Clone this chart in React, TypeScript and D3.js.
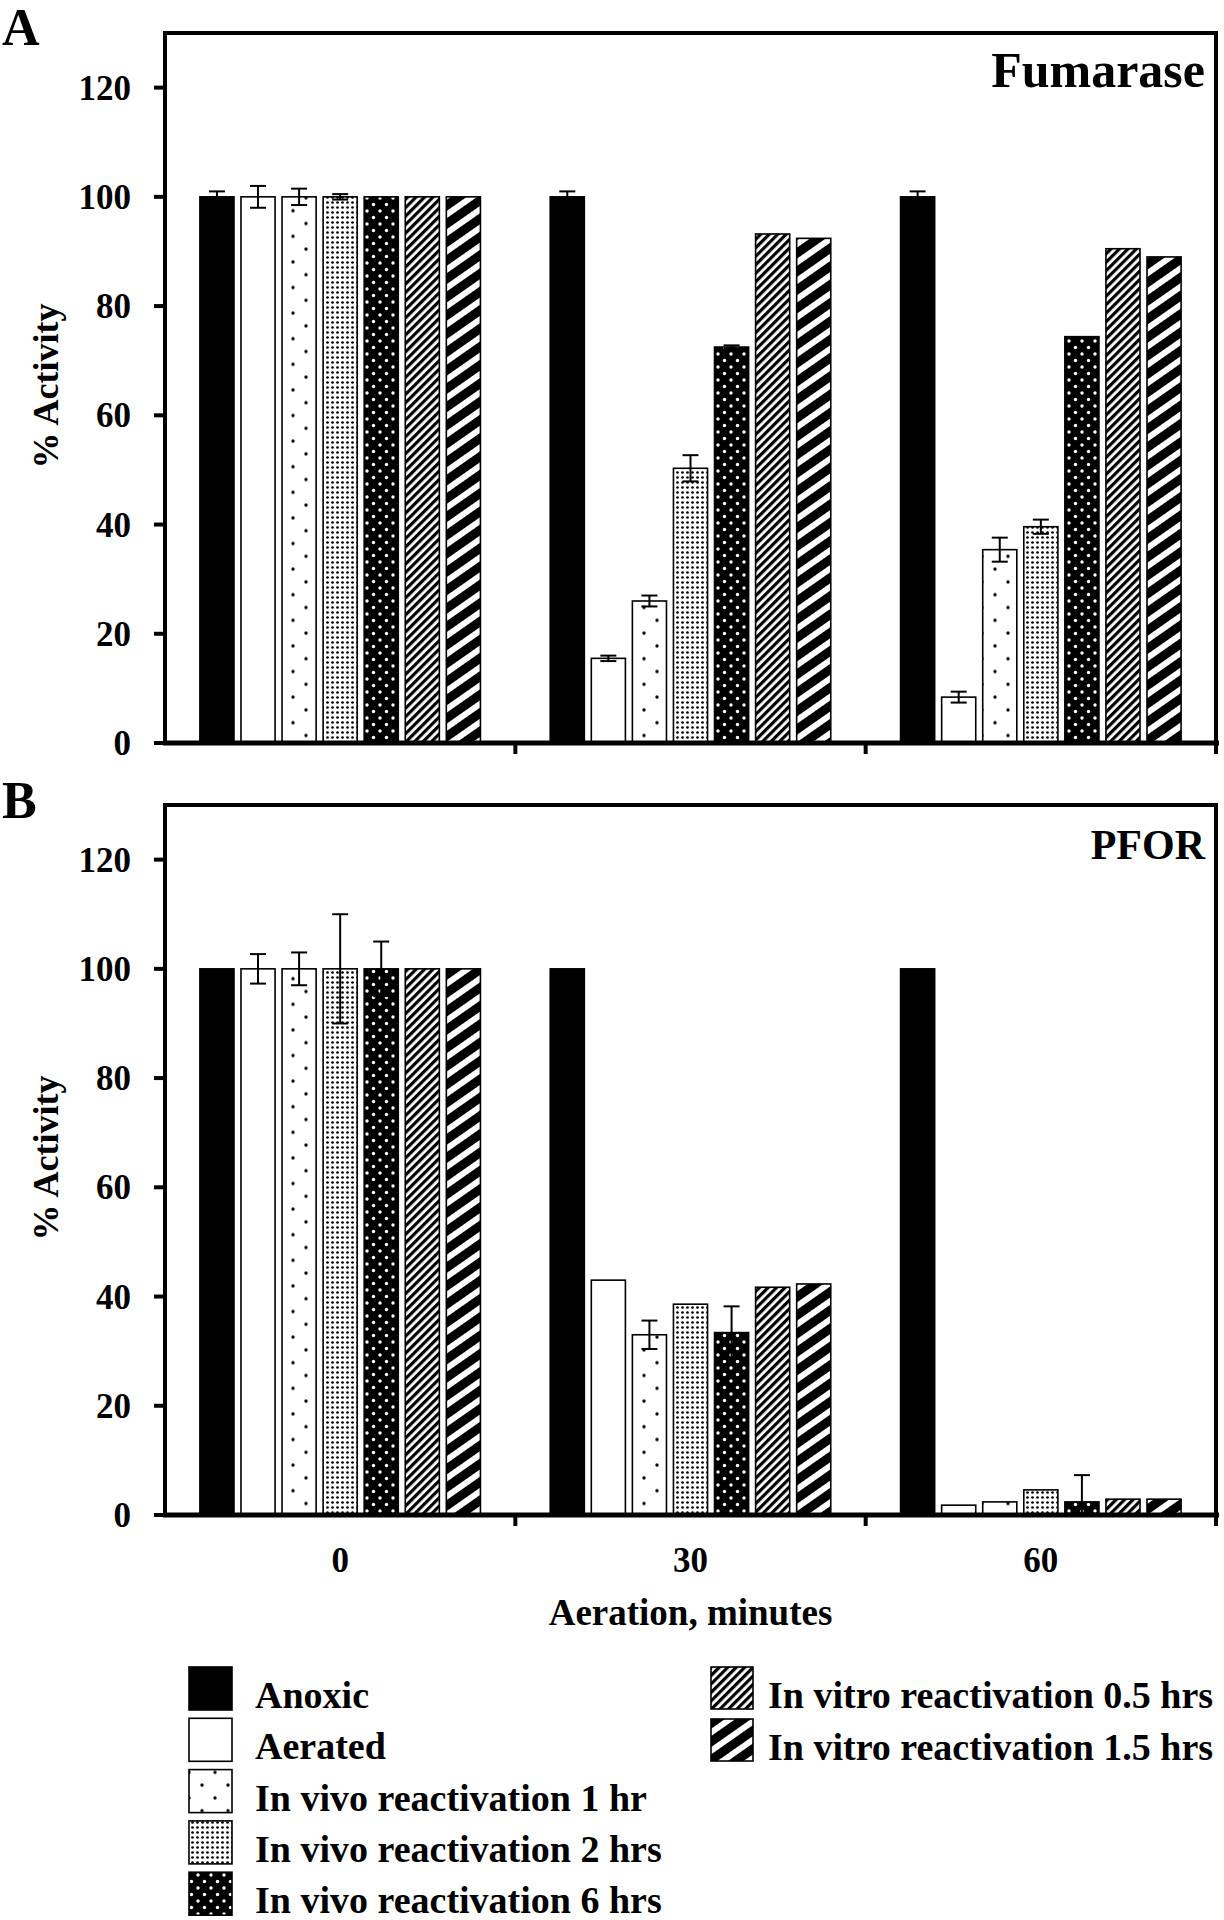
import React from "react";
import * as d3 from "d3";

const groups = ["0", "30", "60"];
const series = [
  "Anoxic",
  "Aerated",
  "In vivo reactivation 1 hr",
  "In vivo reactivation 2 hrs",
  "In vivo reactivation 6 hrs",
  "In vitro reactivation 0.5 hrs",
  "In vitro reactivation 1.5 hrs",
];
const fills = ["#000", "#fff", "url(#p1)", "url(#p2)", "url(#p3)", "url(#p4)", "url(#p5)"];

const fumaraseValues = [
  [100, 100, 100, 100, 100, 100, 100],
  [100, 15.5, 26, 50.3, 72.5, 93.2, 92.4],
  [100, 8.4, 35.4, 39.6, 74.4, 90.5, 89],
];
const fumaraseErrors = [
  [1, 2, 1.5, 0.5, 0, 0, 0],
  [1, 0.5, 1, 2.4, 0.3, 0, 0],
  [1, 1, 2.2, 1.3, 0, 0, 0],
];
const pforValues = [
  [100, 100, 100, 100, 100, 100, 100],
  [100, 43, 33, 38.6, 33.4, 41.7, 42.3],
  [100, 1.8, 2.4, 4.6, 2.4, 2.9, 2.9],
];
const pforErrors = [
  [0, 2.7, 3, 10, 5, 0, 0],
  [0, 0, 2.6, 0, 4.8, 0, 0],
  [0, 0, 0, 0, 4.9, 0, 0],
];
const yTicks = [0, 20, 40, 60, 80, 100, 120];

const FONT = "'Liberation Serif', 'Times New Roman', serif";
const left = 165;
const right = 1216;

const x0 = d3.scaleBand().domain(groups).range([left, right]);
const x1 = d3
  .scaleBand()
  .domain(series)
  .range([0, x0.bandwidth()])
  .paddingInner(0.17)
  .paddingOuter(0.85);

const Panel = ({ top, bottom, values, errors, title, titleSize, letter, letterY, showLabels }) => {
  const y = d3.scaleLinear().domain([0, 130]).range([bottom, top]);
  const bw = x1.bandwidth();
  return (
    <g>
      <text x={2} y={letterY} fontSize={52} fontWeight="bold" fontFamily={FONT}>{letter}</text>
      {groups.map((g, gi) =>
        series.map((s, si) => {
          const v = values[gi][si];
          const e = errors[gi][si];
          const bx = x0(g) + x1(s);
          const cx = bx + bw / 2;
          const lo = Math.max(v - e, 0);
          return (
            <g key={g + s}>
              <rect x={bx} y={y(v)} width={bw} height={y(0) - y(v)} fill={fills[si]} stroke="#000" strokeWidth={1.6} />
              {e > 0 && (
                <g stroke="#000" strokeWidth={2}>
                  <line x1={cx} x2={cx} y1={y(lo)} y2={y(v + e)} />
                  <line x1={cx - 8} x2={cx + 8} y1={y(v + e)} y2={y(v + e)} />
                  {lo > 0 && <line x1={cx - 8} x2={cx + 8} y1={y(lo)} y2={y(lo)} />}
                </g>
              )}
            </g>
          );
        })
      )}
      {/* frame */}
      <path d={`M${left},${bottom} V${top} H${right} V${bottom}`} fill="none" stroke="#000" strokeWidth={4} />
      <line x1={left - 2} x2={right + 3} y1={bottom} y2={bottom} stroke="#000" strokeWidth={5} />
      {groups.map((g) => (
        <line key={g} x1={x0(g) + x0.bandwidth()} x2={x0(g) + x0.bandwidth()} y1={bottom} y2={bottom + 11} stroke="#000" strokeWidth={4} />
      ))}
      {yTicks.map((t) => (
        <g key={t}>
          <line x1={left - 11} x2={left} y1={y(t)} y2={y(t)} stroke="#000" strokeWidth={4} />
          <text x={131} y={y(t) + 12} textAnchor="end" fontSize={35} fontWeight="bold" fontFamily={FONT}>{t}</text>
        </g>
      ))}
      <text
        transform={`translate(58,${(top + bottom) / 2 - 2}) rotate(-90)`}
        textAnchor="middle"
        fontSize={36}
        fontWeight="bold"
        fontFamily={FONT}
      >
        % Activity
      </text>
      <text x={1205} y={top + 54} textAnchor="end" fontSize={titleSize} fontWeight="bold" fontFamily={FONT}>{title}</text>
      {showLabels &&
        groups.map((g) => (
          <text key={g} x={x0(g) + x0.bandwidth() / 2} y={bottom + 57} textAnchor="middle" fontSize={35} fontWeight="bold" fontFamily={FONT}>{g}</text>
        ))}
    </g>
  );
};

const App = () => {
  const legendLeft = series.slice(0, 5);
  const legendRight = series.slice(5);
  return (
    <svg width={1224} height={1920} style={{ position: "absolute", left: 0, top: 0, background: "#fff" }}>
      <defs>
        <pattern id="p1" patternUnits="userSpaceOnUse" width={26} height={25.6}>
          <rect width={26} height={25.6} fill="#fff" />
          <circle cx={7} cy={6} r={1.7} fill="#000" />
          <circle cx={20} cy={18.8} r={1.7} fill="#000" />
        </pattern>
        <pattern id="p2" patternUnits="userSpaceOnUse" width={5} height={5}>
          <rect width={5} height={5} fill="#fff" />
          <circle cx={2.5} cy={2.5} r={1.35} fill="#000" />
        </pattern>
        <pattern id="p3" patternUnits="userSpaceOnUse" width={13} height={13}>
          <rect width={13} height={13} fill="#000" />
          <circle cx={3} cy={3} r={1.7} fill="#fff" />
          <circle cx={9.5} cy={9.5} r={1.7} fill="#fff" />
        </pattern>
        <pattern id="p4" patternUnits="userSpaceOnUse" width={6} height={6} patternTransform="rotate(45)">
          <rect width={6} height={6} fill="#fff" />
          <rect width={3.2} height={6} fill="#000" />
        </pattern>
        <pattern id="p5" patternUnits="userSpaceOnUse" width={15} height={15} patternTransform="rotate(55)">
          <rect width={15} height={15} fill="#fff" />
          <rect width={9} height={15} fill="#000" />
        </pattern>
      </defs>

      <Panel top={33} bottom={743} values={fumaraseValues} errors={fumaraseErrors} title="Fumarase" titleSize={50} letter="A" letterY={45} showLabels={false} />
      <Panel top={805} bottom={1515} values={pforValues} errors={pforErrors} title="PFOR" titleSize={42} letter="B" letterY={818} showLabels={true} />

      <text x={(left + right) / 2} y={1625} textAnchor="middle" fontSize={37} fontWeight="bold" fontFamily={FONT}>Aeration, minutes</text>

      {legendLeft.map((s, i) => {
        const ty = 1667 + i * 51.3;
        return (
          <g key={s}>
            <rect x={189} y={ty} width={43} height={43} fill={fills[i]} stroke="#000" strokeWidth={1.6} />
            <text x={255} y={ty + 41} fontSize={38} fontWeight="bold" fontFamily={FONT}>{s}</text>
          </g>
        );
      })}
      {legendRight.map((s, i) => {
        const ty = 1667 + i * 52;
        return (
          <g key={s}>
            <rect x={711} y={ty} width={42} height={42} fill={fills[i + 5]} stroke="#000" strokeWidth={1.6} />
            <text x={768} y={ty + 41} fontSize={38} fontWeight="bold" fontFamily={FONT}>{s}</text>
          </g>
        );
      })}
    </svg>
  );
};

export default App;
